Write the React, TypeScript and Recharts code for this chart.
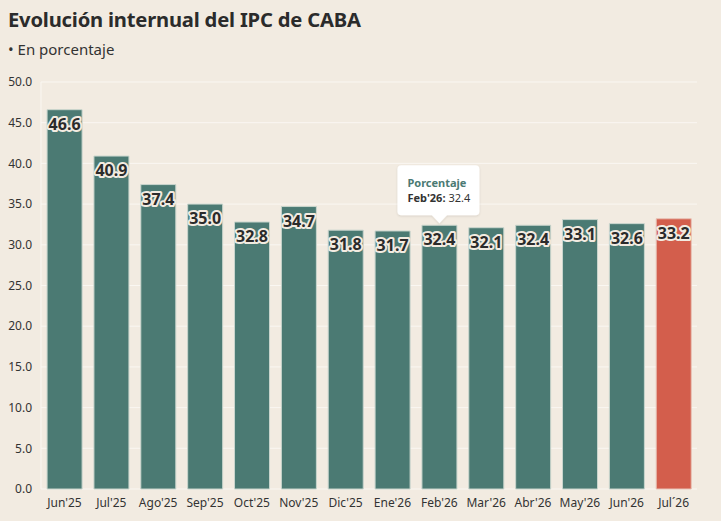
import React from "react";
import { BarChart, Bar, XAxis, YAxis, CartesianGrid, Cell, LabelList } from "recharts";

const categories = ["Jun'25", "Jul'25", "Ago'25", "Sep'25", "Oct'25", "Nov'25", "Dic'25", "Ene'26", "Feb'26", "Mar'26", "Abr'26", "May'26", "Jun'26", "Jul´26"];
const values = [46.6, 40.9, 37.4, 35.0, 32.8, 34.7, 31.8, 31.7, 32.4, 32.1, 32.4, 33.1, 32.6, 33.2];
const yTicks = [0, 5, 10, 15, 20, 25, 30, 35, 40, 45, 50];
const highlightIndex = 13;
const tooltipIndex = 8;
const seriesName = "Porcentaje";

const data = categories.map((c, i) => ({ name: c, value: values[i] }));

const BG = "#f2ebe1";
const TEAL = "#4b7a73";
const RED = "#d35e4c";
const FONT = "'Noto Sans', sans-serif";

const ValueLabel = (props: any) => {
  const { x, y, width, value } = props;
  return (
    <text
      x={x + width / 2}
      y={y + 14}
      textAnchor="middle"
      dominantBaseline="central"
      fontFamily={FONT}
      fontWeight={700}
      fontSize={16}
      fill="#2b2b2b"
      stroke={BG}
      strokeWidth={4}
      strokeLinejoin="round"
      paintOrder="stroke"
    >
      {Number(value).toFixed(1)}
    </text>
  );
};

const TooltipLabel = (props: any) => {
  const { x, y, width, value, index } = props;
  if (index !== tooltipIndex) return null;
  const cx = x + width / 2;
  const bx = cx - 42;
  const by = y - 60;
  return (
    <g>
      <defs>
        <filter id="tipShadow" x="-20%" y="-20%" width="140%" height="160%">
          <feDropShadow dx="0" dy="1" stdDeviation="1.2" floodColor="#000" floodOpacity="0.12" />
        </filter>
      </defs>
      <g filter="url(#tipShadow)">
        <rect x={bx} y={by} width={82} height={50} rx={4} fill="#ffffff" />
        <path d={`M${cx - 8},${y - 10.5} L${cx},${y - 2} L${cx + 8},${y - 10.5} Z`} fill="#ffffff" />
      </g>
      <text x={bx + 10} y={by + 22} fontFamily={FONT} fontSize={11} fontWeight={700} fill={TEAL}>
        {seriesName}
      </text>
      <text x={bx + 10} y={by + 37} fontFamily={FONT} fontSize={11} fill="#333">
        <tspan fontWeight={700}>{categories[index]}:</tspan> {Number(value).toFixed(1)}
      </text>
    </g>
  );
};

export default function App() {
  return (
    <div style={{ position: "fixed", left: 0, top: 0, width: 721, height: 521, background: BG, overflow: "hidden" }}>
      <div style={{ position: "absolute", left: 8, top: 5, fontFamily: FONT, fontWeight: 700, fontSize: 20.2, color: "#2b2b2b", letterSpacing: -0.2 }}>
        Evolución internual del IPC de CABA
      </div>
      <div style={{ position: "absolute", left: 8, top: 39, fontFamily: FONT, fontSize: 15, color: "#333" }}>
        • En porcentaje
      </div>
      <div style={{ position: "absolute", left: 0, top: 0 }}>
        <BarChart
          width={721}
          height={521}
          data={data}
          margin={{ top: 82, right: 24, bottom: 2, left: 0 }}
          barCategoryGap="13%"
        >
          <CartesianGrid vertical={false} stroke="#faf7f2" strokeWidth={1} />
          <XAxis
            dataKey="name"
            height={30}
            tickLine={false}
            tickSize={0}
            tickMargin={9}
            axisLine={false}
            interval={0}
            tick={{ fontFamily: FONT, fontSize: 12, fill: "#333" }}
          />
          <YAxis
            width={41}
            domain={[0, 50]}
            ticks={yTicks}
            tickFormatter={(v: number) => v.toFixed(1)}
            tickLine={false}
            tickSize={0}
            tickMargin={9}
            axisLine={{ stroke: "#faf7f2" }}
            tick={{ fontFamily: FONT, fontSize: 12, fill: "#333" }}
            interval={0}
          />
          <Bar dataKey="value" isAnimationActive={false} stroke="#c9d5cd" strokeWidth={1}>
            {data.map((d, i) => (
              <Cell key={d.name} fill={i === highlightIndex ? RED : TEAL} stroke={i === highlightIndex ? "#e8c1b4" : "#c9d5cd"} />
            ))}
            <LabelList dataKey="value" content={ValueLabel} />
            <LabelList dataKey="value" content={TooltipLabel} />
          </Bar>
        </BarChart>
      </div>
    </div>
  );
}
